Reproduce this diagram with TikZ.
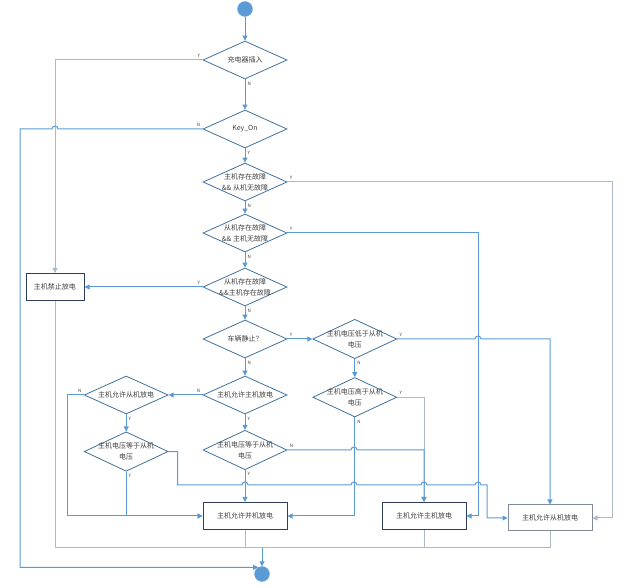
\documentclass[tikz,border=0pt]{standalone}
\usepackage{fontspec}
\newfontfamily\cjk{Noto Sans CJK SC}
\usetikzlibrary{shapes.geometric, arrows.meta, positioning}
\usepackage{xcolor}
\definecolor{flowblue}{RGB}{91,155,213}
\definecolor{flowgray}{RGB}{173,185,202}
\definecolor{diaedge}{RGB}{65,113,156}
\definecolor{boxedge}{RGB}{47,62,92}
\definecolor{txtgray}{RGB}{64,64,64}
\tikzset{
  decide/.style={
    diamond, draw=diaedge, line width=0.8pt, fill=white,
    minimum width=84pt, minimum height=38pt,
    inner xsep=-12pt, inner ysep=-5pt, align=center,
    font=\cjk\fontsize{7}{11}\selectfont, text=txtgray
  },
  act/.style={
    rectangle, draw=boxedge, line width=1pt, fill=white,
    minimum width=84pt, minimum height=27pt, inner sep=2pt,
    font=\cjk\fontsize{7}{9}\selectfont, text=txtgray
  },
  term/.style={circle, fill=flowblue, draw=flowblue!85, minimum size=15pt, inner sep=0pt},
  arr/.style={-{Triangle[length=5pt, width=5pt]}, line width=1pt, color=flowblue},
  garr/.style={arr, color=flowgray},
  wire/.style={line width=1pt, color=flowblue},
  gwire/.style={wire, color=flowgray},
  yn/.style={font=\cjk\fontsize{4.5}{5}\selectfont, text=txtgray, inner sep=2pt},
}

\begin{document}
\begin{tikzpicture}[x=1pt, y=-1pt]
  \useasboundingbox (0,0) rectangle (633,588);

  \node[term] (start) at (245,9) {};
  \node[term] (end) at (262,574) {};

  % checks
  \node[decide] (chg)   at (245,60)  {充电器插入};
  \node[decide] (key)   at (245,129) {Key\_On};
  \node[decide] (flt1)  at (245,182) {主机存在故障\\\&\& 从机无故障};
  \node[decide] (flt2)  at (245,233) {从机存在故障\\\&\& 主机无故障};
  \node[decide] (flt3)  at (245,287) {从机存在故障\\\&\&主机存在故障};
  \node[decide] (still) at (245,339) {车辆静止？};
  \node[decide, right=25pt of still] (vlow)  {主机电压低于从机\\电压};
  \node[decide, below=18pt of vlow]  (vhigh) {主机电压高于从机\\电压};
  \node[decide] (amst)  at (245,395) {主机允许主机放电};
  \node[decide, left=34pt of amst]   (aslv)  {主机允许从机放电};
  \node[decide] (veq1)  at (245,450) {主机电压等于从机\\电压};
  \node[decide, below=17pt of aslv]  (veq2)  {主机电压等于从机\\电压};

  % results
  \node[act, minimum width=58pt] (stop) at (55,287) {主机禁止放电};
  \node[act] (par) at (245,516) {主机允许并机放电};
  \node[act] (mst) at (424,516) {主机允许主机放电};
  \node[act, draw=boxedge!60, minimum height=26pt] (slv) at (550,518) {主机允许从机放电};

  \draw[arr] (start) -- (chg);
  \draw[arr] (chg) -- node[yn, pos=0, below right]{N} (key);
  \draw[garr] (chg.west) node[yn, above left]{Y} -| (stop.north);
  \draw[arr] (key) -- node[yn, pos=0, below right]{Y} (flt1);
  \draw[arr] (key.west) node[yn, above left]{N} -- (58,129)
    arc[start angle=0, end angle=180, radius=3pt] -- (20,129) |- (end.120);
  \draw[garr] (flt1.east) node[yn, above right]{Y} -- ++(325,0) |- (slv.east);
  \draw[arr] (flt1) -- node[yn, pos=0, below right]{N} (flt2);
  \draw[arr] (flt2.east) node[yn, above right]{Y} -- ++(191,0) |- (mst.east);
  \draw[arr] (flt2) -- node[yn, pos=0, below right]{N} (flt3);
  \draw[arr] (flt3.west) node[yn, above left]{Y} -- (stop.east);
  \draw[arr] (flt3) -- node[yn, pos=0, below right]{N} (still);
  \draw[arr] (still) -- node[yn, pos=0, above right]{Y} (vlow);
  \draw[arr] (still) -- node[yn, pos=0, below right]{N} (amst);
  \draw[arr] (vlow.east) node[yn, above right]{Y} -- (475,339)
    arc[start angle=180, end angle=0, radius=3pt] -| (slv.north);
  \draw[arr] (vlow) -- node[yn, pos=0, below right]{N} (vhigh);
  \draw[garr] (vhigh.east) node[yn, above right]{Y} -| (mst.north);
  \draw[arr] (vhigh.south) node[yn, below right]{N} |- (par.east);
  \draw[arr] (amst.west) node[yn, above left]{N} -- (aslv.east);
  \draw[arr] (amst) -- node[yn, pos=0, below right]{Y} (veq1);
  \draw[arr] (aslv) -- node[yn, pos=0, below right]{Y} (veq2);
  \draw[arr] (aslv.west) node[yn, above left]{N} -- ++(-16,0) |- (par.west);
  \draw[arr] (veq2.south) node[yn, below right]{Y} |- (par.west);
  \draw[arr] (veq1) -- node[yn, pos=0, below right]{Y} (par);
  \draw[arr] (veq1.east) node[yn, above right]{N} -- (351,450)
    arc[start angle=180, end angle=0, radius=3pt] -| (mst.north);
  \draw[arr] (veq2.east) -- ++(9,0) |- (242,485)
    arc[start angle=180, end angle=0, radius=3pt] -- (351,485)
    arc[start angle=180, end angle=0, radius=3pt] -- (421,485)
    arc[start angle=180, end angle=0, radius=3pt] -- (475,485)
    arc[start angle=180, end angle=0, radius=3pt] -- (487,485) |- (slv.west);

  % back to the end
  \coordinate (jn) at (262,548);
  \draw[gwire] (stop.south) |- (jn);
  \draw[gwire] (par.south) |- (jn);
  \draw[gwire] (mst.south) |- (jn);
  \draw[gwire] (slv.south) |- (jn);
  \draw[arr] (jn) -- (end);
\end{tikzpicture}
\end{document}
